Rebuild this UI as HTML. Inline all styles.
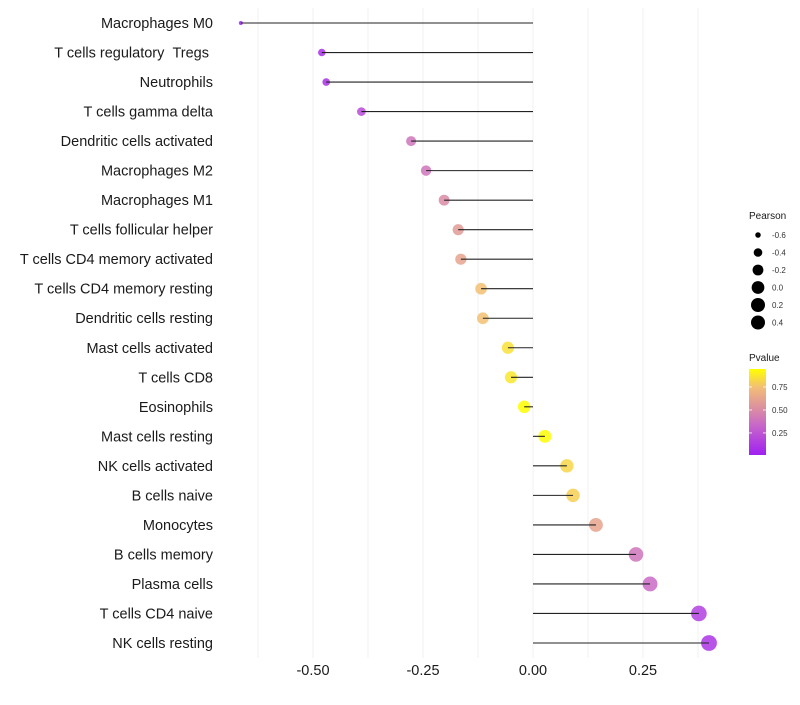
<!DOCTYPE html>
<html><head><meta charset="utf-8"><style>
body{margin:0;background:#fff;font-family:"Liberation Sans",Arial,sans-serif}
</style></head><body>
<svg id="chart" width="800" height="700" xmlns="http://www.w3.org/2000/svg">
<defs><linearGradient id="pg" x1="0" y1="1" x2="0" y2="0">
<stop offset="0" stop-color="#A020F0"/><stop offset="0.35" stop-color="#C868C8"/><stop offset="0.55" stop-color="#DC90A0"/><stop offset="0.78" stop-color="#F2BC78"/><stop offset="1" stop-color="#FFFF00"/></linearGradient></defs>
<g id="grid"></g><g id="dots"></g><g id="marks"></g><g id="ylab"></g><g id="xlab"></g>
<g id="legend"></g>
</svg>
<script>
const categories=["Macrophages M0","T cells regulatory\u00a0\u00a0Tregs\u00a0","Neutrophils","T cells gamma delta","Dendritic cells activated","Macrophages M2","Macrophages M1","T cells follicular helper","T cells CD4 memory activated","T cells CD4 memory resting","Dendritic cells resting","Mast cells activated","T cells CD8","Eosinophils","Mast cells resting","NK cells activated","B cells naive","Monocytes","B cells memory","Plasma cells","T cells CD4 naive","NK cells resting"];
const pearson=[-0.664,-0.48,-0.47,-0.39,-0.277,-0.243,-0.202,-0.17,-0.164,-0.118,-0.114,-0.057,-0.05,-0.02,0.027,0.077,0.091,0.143,0.234,0.266,0.377,0.40];
const pvalue=[0.03,0.08,0.08,0.2,0.4,0.4,0.5,0.58,0.62,0.75,0.75,0.85,0.87,0.95,0.94,0.82,0.8,0.62,0.4,0.35,0.15,0.1];
const xTicks=[-0.5,-0.25,0,0.25];
const xTickLabels=["-0.50","-0.25","0.00","0.25"];
const sizeBreaks=[-0.6,-0.4,-0.2,0.0,0.2,0.4];
const sizeLabels=["-0.6","-0.4","-0.2","0.0","0.2","0.4"];
const pTicks=[0.25,0.5,0.75];
const pTickLabels=["0.25","0.50","0.75"];
const NS="http://www.w3.org/2000/svg";
function X(v){return 533+v*440;}
function Y(i){return 23+i*(620/21);}
function R(v){return Math.sqrt(Math.max(3,4+55*(v+0.664)));}
const stops=[[0,[160,32,240]],[0.35,[200,104,200]],[0.55,[220,144,160]],[0.78,[242,188,120]],[1,[255,255,0]]];
const pmin=0.01,pmax=0.946;
function col(p){let t=(p-pmin)/(pmax-pmin);t=Math.max(0,Math.min(1,t));
 for(let k=1;k<stops.length;k++){if(t<=stops[k][0]){const a=stops[k-1],b=stops[k],f=(t-a[0])/(b[0]-a[0]);
 return "rgb("+a[1].map((c,j)=>Math.round(c+(b[1][j]-c)*f)).join(",")+")";}}return "rgb(255,255,0)";}
function PY(p){return 455-(p-pmin)/(pmax-pmin)*86;}
function mk(tag,at,parent,txt){const e=document.createElementNS(NS,tag);for(const k in at)e.setAttribute(k,at[k]);if(txt!==undefined)e.textContent=txt;document.getElementById(parent).appendChild(e);return e;}
for(let v=-0.625;v<=0.4;v+=0.125){const g=mk("line",{x1:X(v),x2:X(v),y1:8,y2:658,stroke:"#f2f2f2","stroke-width":1},"grid");

}
categories.forEach((c,i)=>{
 const d=mk("circle",{cx:X(pearson[i]),cy:Y(i),r:R(pearson[i]),fill:col(pvalue[i]),"fill-opacity":0.85},"dots");
 
 
 const l=mk("line",{x1:X(0),x2:X(pearson[i]),y1:Y(i),y2:Y(i),stroke:"#222","stroke-width":1.1},"marks");
 
 
 const t=mk("text",{x:213,y:Y(i)+5,"text-anchor":"end","font-size":14.5,fill:"#1a1a1a"},"ylab",c);
 
 
});
xTicks.forEach((v,i)=>{const t=mk("text",{x:X(v),y:675,"text-anchor":"middle","font-size":14.5,fill:"#1a1a1a"},"xlab",xTickLabels[i]);

});
const lt=mk("text",{x:749,y:219,"font-size":10,fill:"#1a1a1a"},"legend","Pearson");


sizeBreaks.forEach((v,i)=>{const y=235+i*17.5;
 const c=mk("circle",{cx:758,cy:y,r:Math.min(R(v),7),fill:"#000"},"legend");
 
 
 const t=mk("text",{x:772,y:y+3,"font-size":8,fill:"#333"},"legend",sizeLabels[i]);
 
 });
const pt=mk("text",{x:749,y:361,"font-size":10,fill:"#1a1a1a"},"legend","Pvalue");


const bar=mk("rect",{x:749,y:369,width:17,height:86,fill:"url(#pg)"},"legend");


pTicks.forEach((p,i)=>{const y=PY(p);
 mk("line",{x1:749,x2:752,y1:y,y2:y,stroke:"#fff","stroke-width":0.8},"legend");
 mk("line",{x1:763,x2:766,y1:y,y2:y,stroke:"#fff","stroke-width":0.8},"legend");
 const t=mk("text",{x:772,y:y+3,"font-size":8,fill:"#333"},"legend",pTickLabels[i]);
 
 });
</script>
</body></html>
